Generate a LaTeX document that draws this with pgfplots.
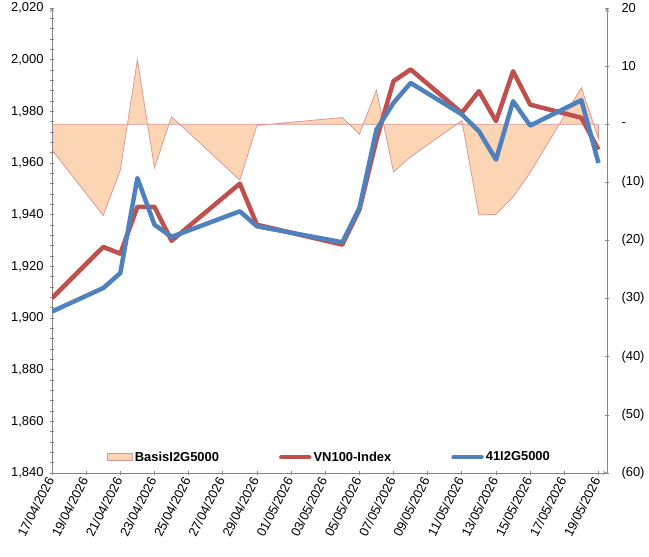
\documentclass[border=0pt]{standalone}
\usepackage{pgfplots}
\usepackage{pgfplotstable}
\pgfplotsset{compat=1.18}
\usepackage{fontspec}
\setmainfont{Liberation Sans}

\definecolor{vnred}{HTML}{C0504D}
\definecolor{iblue}{HTML}{4F81BD}
\definecolor{basisfill}{HTML}{FCD5B5}
\definecolor{basisedge}{HTML}{D99694}
\definecolor{axisgray}{HTML}{868686}

% day = calendar days after 17/04/2026
\pgfplotstableread{
day vn     fut    basis
0   1907.7 1902.5 -4.4
3   1927.5 1911.6 -15.7
4   1924.9 1917.4 -7.9
5   1943.0 1954.2 11.1
6   1943.0 1936.1 -7.5
7   1929.9 1931.4 1.3
11  1952.0 1941.3 -9.6
12  1936.1 1935.5 -0.2
17  1928.4 1929.3 1.15
18  1941.9 1942.5 -1.7
19  1969.0 1972.9 5.9
20  1991.7 1983.3 -8.2
21  1996.2 1991.0 -5.6
24  1979.4 1978.8 0.6
25  1987.8 1972.3 -15.6
26  1976.2 1961.3 -15.5
27  1995.5 1983.9 -12.5
28  1982.6 1974.5 -8.3
31  1977.5 1984.3 6.3
32  1965.2 1960.0 -2.5
}\datatable

\pgfplotsset{
  base/.style={
    scale only axis, width=555bp, height=465bp,
    at={(0,0)}, anchor=south west,
    xmin=0, xmax=32.5,
    font=\fontsize{13}{15}\selectfont,
    tick align=outside,
    major tick length=4bp, minor tick length=4bp,
    tick style={axisgray, line width=0.75bp},
    axis line style={-, axisgray, line width=0.75bp},
    /pgf/number format/assume math mode=true,
  },
  linelegend/.style={
    legend image code/.code={\draw[##1, line cap=round] (0bp,0bp) -- (28bp,0bp);}},
  arealegend/.style={
    legend image code/.code={\draw[##1] (0bp,-3.5bp) rectangle (25bp,3.5bp);}},
}

\begin{document}
\begin{tikzpicture}
\path[use as bounding box] (-52bp,-84bp) rectangle (597bp,473bp);

% basis, right-hand scale
\begin{axis}[base,
  axis y line=right, axis x line=none,
  ymin=-60, ymax=20,
  ytick={-60,-50,...,20},
  yticklabels={(60),(50),(40),(30),(20),(10),-,10,20},
  yticklabel style={xshift=9bp},
]
\addplot[fill=basisfill, draw=basisedge, line width=0.75bp]
  table[x=day, y=basis] {\datatable} \closedcycle;
\end{axis}

% index and futures, left-hand scale
\begin{axis}[base,
  axis y line=left, axis x line=bottom,
  ymin=1840, ymax=2020,
  ytick={1840,1860,...,2020},
  minor y tick num=4,
  yticklabel style={xshift=-3bp, /pgf/number format/.cd, fixed, 1000 sep={,}},
  xtick={0,2,...,32},
  xticklabels={17/04/2026,19/04/2026,21/04/2026,23/04/2026,25/04/2026,27/04/2026,29/04/2026,01/05/2026,03/05/2026,05/05/2026,07/05/2026,09/05/2026,11/05/2026,13/05/2026,15/05/2026,17/05/2026,19/05/2026},
  xticklabel style={rotate=63, anchor=east, font=\fontsize{13}{15}\selectfont},
  legend columns=3,
  legend cell align=left,
  legend style={at={(0.5,0.034)}, anchor=center, draw=none, fill=none,
    font=\bfseries\fontsize{13}{15}\selectfont,
    /tikz/every even column/.append style={column sep=58bp}},
]
\addlegendimage{arealegend, fill=basisfill, draw=basisedge, line width=0.75bp}
\addlegendentry{BasisI2G5000}
\addplot[vnred, line width=4.5bp, line join=round, linelegend]
  table[x=day, y=vn] {\datatable};
\addlegendentry{VN100-Index}
\addplot[iblue, line width=4.5bp, line join=round, linelegend]
  table[x=day, y=fut] {\datatable};
\addlegendentry{41I2G5000}
\end{axis}
\end{tikzpicture}
\end{document}
